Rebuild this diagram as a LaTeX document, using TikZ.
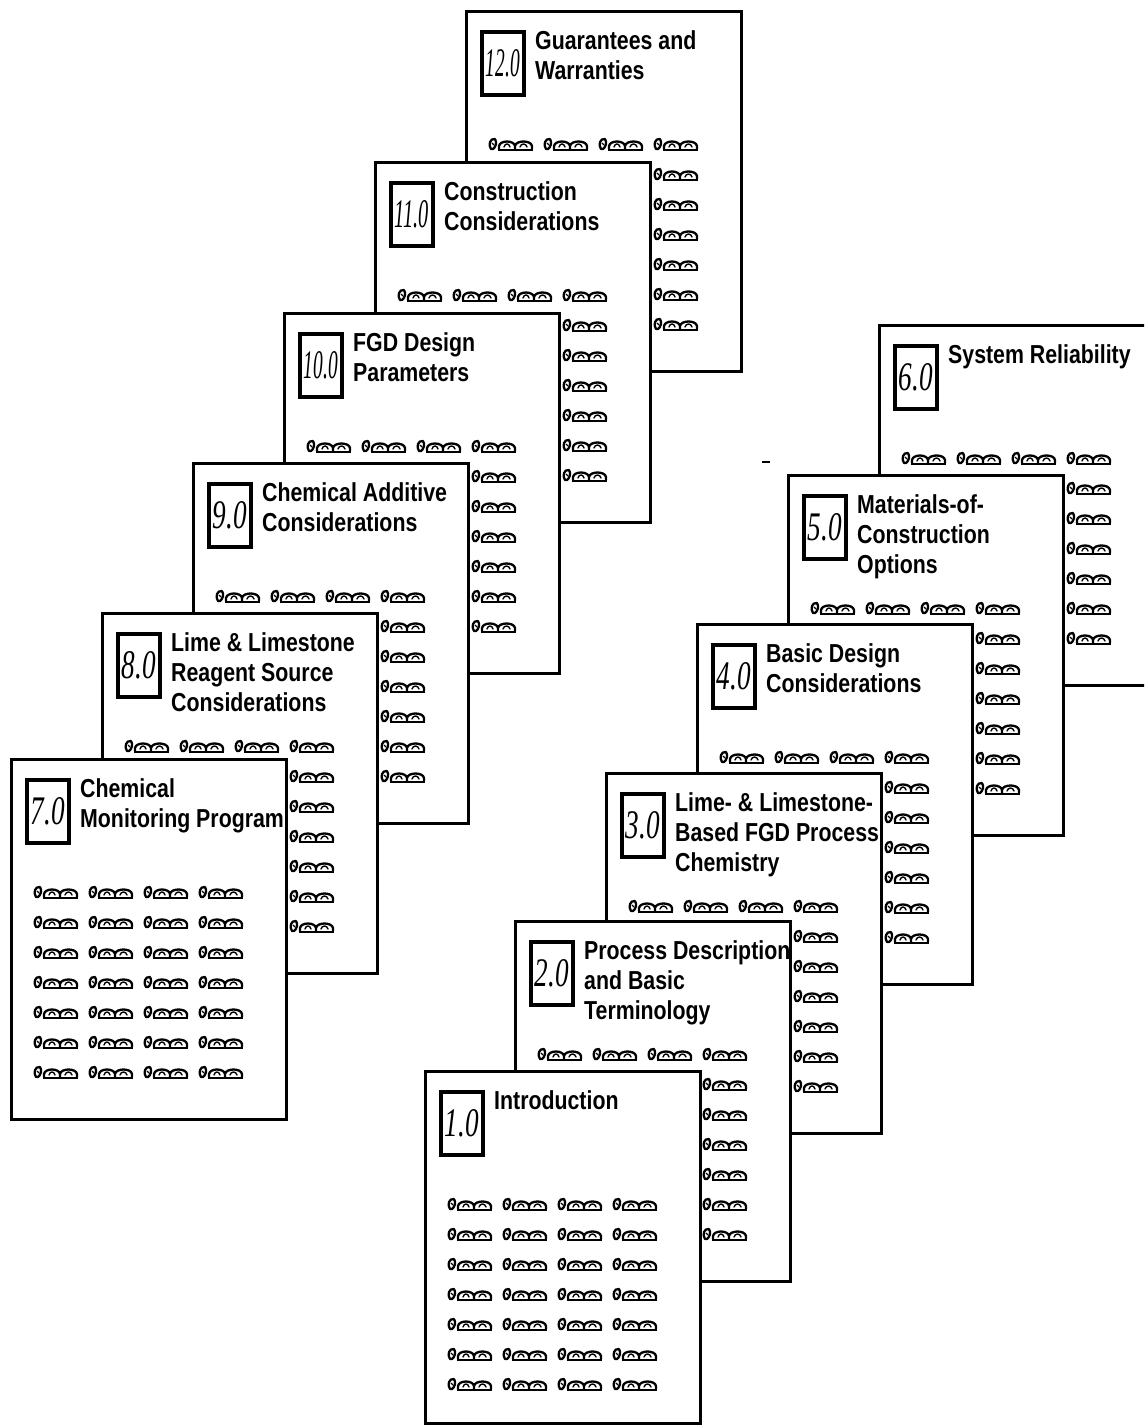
\documentclass[tikz,border=0pt]{standalone}
\usepackage{fontspec}
\usepackage{graphicx}
\newfontfamily\titlef[FakeStretch=0.82]{Liberation Sans}
\newfontfamily\numf[FakeStretch=0.75]{Liberation Serif}
\def\pageh{360}
\tikzset{
  pagebox/.style={draw, fill=white, line width=3pt, anchor=north west,
    minimum width=275pt, minimum height=\pageh pt, inner sep=0pt},
  numbox/.style={draw, fill=white, line width=3.5pt, anchor=north west,
    minimum width=42pt, minimum height=63pt, inner sep=0pt},
  titlebox/.style={anchor=north west, inner sep=0pt, align=left,
    font={\titlef\bfseries\fontsize{26}{30}\selectfont}},
  glyph/.pic={
    \draw[line width=2.3pt, line cap=round, line join=round]
      (3,-1) .. controls (0,-5) and (2,-12) .. (7,-11)
      .. controls (9,-8) and (8,-3) .. (5,-1) -- cycle;
    \draw[line width=1.3pt] (4,-7) -- (6,-5);
    \draw[line width=2.3pt, line cap=round, line join=round]
      (11,-1) -- (11,-4) .. controls (12,-10) and (26,-10) .. (27,-4) -- (27,-1)
      (27,-4) .. controls (28,-10) and (43,-10) .. (44,-4) -- (44,-1);
    \draw[line width=2.4pt] (10,0) -- (45,0);
    \draw[line width=1.4pt, line cap=round] (16,-3) .. controls (17,-7) and (21,-7) .. (22,-3)
      (32,-3) .. controls (33,-7) and (38,-7) .. (39,-3);
  }
}
\newcommand{\drawpage}[5]{%
  \node[pagebox] (p#1) at (#2,#3) {};
  \foreach \r in {0,...,6}{\foreach \c in {0,...,3}{%
    \pic at ([shift={(23+55*\c,140+30*\r)}]p#1.north west) {glyph};}}
  \node[numbox] (n#1) at ([shift={(15,20)}]p#1.north west)
    {\raisebox{1pt}{\resizebox{34pt}{27pt}{\numf\itshape #4}}};
  \node[titlebox] (t#1) at ([shift={(70,18)}]p#1.north west) {\strut #5};
}
\begin{document}
\begin{tikzpicture}[x=1pt, y=-1pt]
\useasboundingbox (0,0) rectangle (1144,1425);
\clip (0,0) rectangle (1144,1425);
\fill[white] (0,0) rectangle (1144,1425);
% left stack, back to front
\drawpage{12}{465}{10}{12.0}{Guarantees and\\Warranties}
\drawpage{11}{374}{161}{11.0}{Construction\\Considerations}
\drawpage{10}{283}{312}{10.0}{FGD Design\\Parameters}
\drawpage{9}{192}{462}{9.0}{Chemical Additive\\Considerations}
\drawpage{8}{101}{612}{8.0}{Lime \& Limestone\\Reagent Source\\Considerations}
\drawpage{7}{10}{758}{7.0}{Chemical\\Monitoring Program}
% right stack, back to front
\drawpage{6}{878}{324}{6.0}{System Reliability}
\drawpage{5}{787}{474}{5.0}{Materials-of-\\Construction\\Options}
\drawpage{4}{696}{623}{4.0}{Basic Design\\Considerations}
\drawpage{3}{605}{772}{3.0}{Lime- \& Limestone-\\Based FGD Process\\Chemistry}
\drawpage{2}{514}{920}{2.0}{Process Description\\and Basic\\Terminology}
\def\pageh{352}
\drawpage{1}{424}{1070}{1.0}{Introduction}
\coordinate (dashA) at (762,462);
\coordinate (dashB) at (770,462);
\draw[line width=2pt] (dashA) -- (dashB);
\end{tikzpicture}
\end{document}
